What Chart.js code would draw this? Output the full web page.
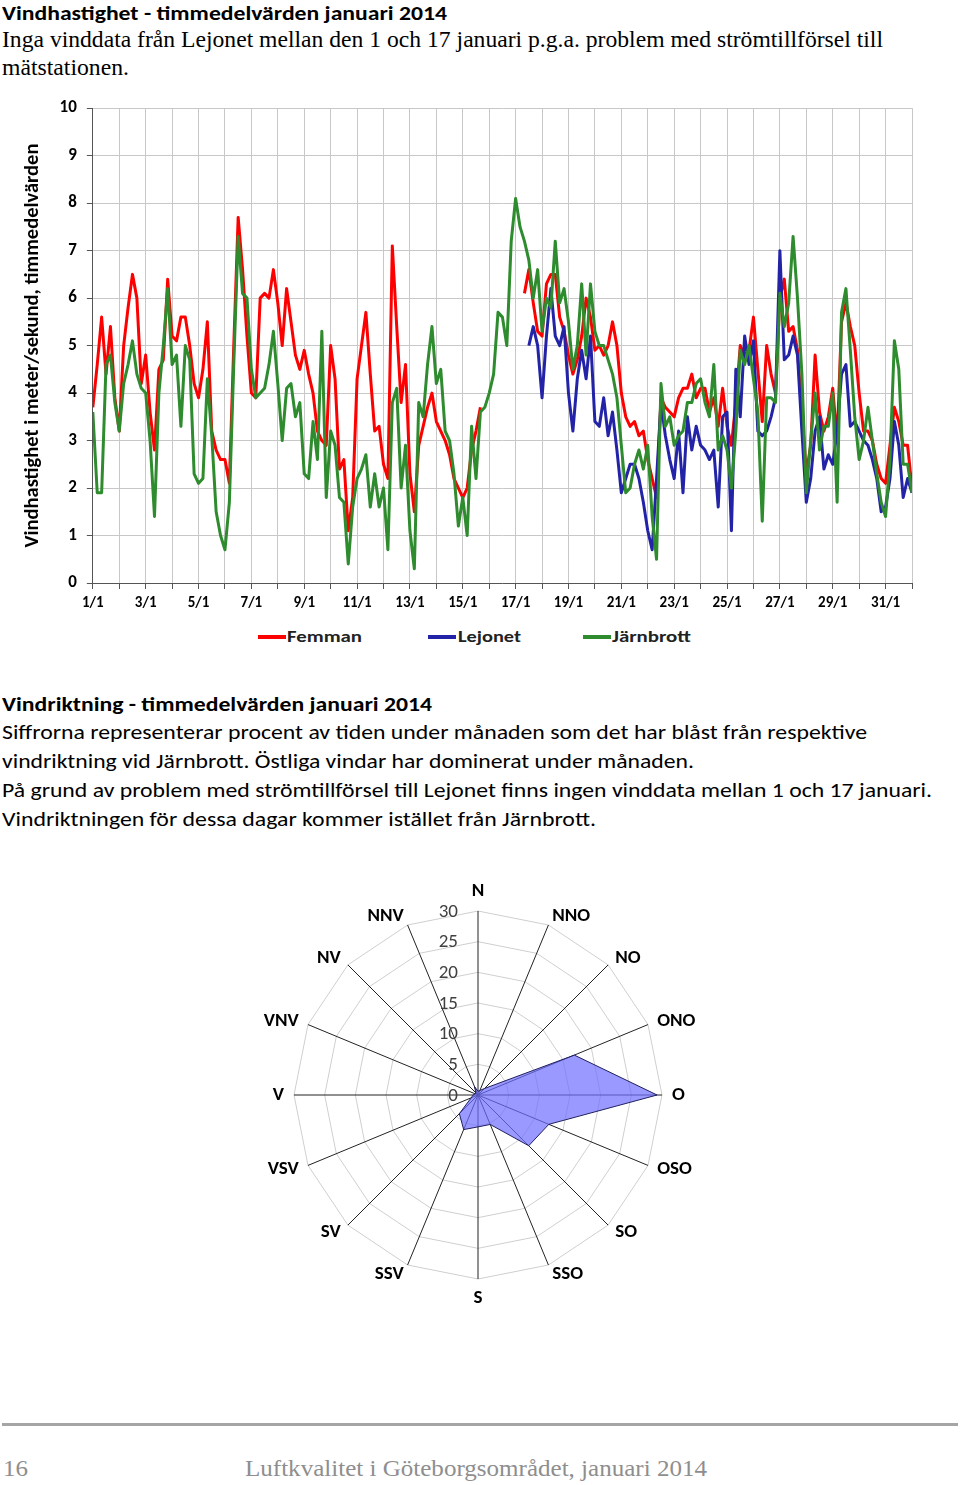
<!DOCTYPE html>
<html>
<head>
<meta charset="utf-8">
<script src="https://cdn.jsdelivr.net/npm/chart.js@4.4.1/dist/chart.umd.min.js"></script>
<style>
  html, body { margin: 0; padding: 0; background: #fff; }
  body { width: 960px; height: 1485px; position: relative; overflow: hidden; font-family: Carlito, Lato, sans-serif; }
  .t { position: absolute; white-space: nowrap; transform-origin: 0 50%; line-height: 26px; height: 26px; color: #000; }
  .h { font-weight: bold; font-size: 20px; }
  .p { font-size: 20px; }
  .serif { font-family: "Liberation Serif", serif; font-size: 23px; }
  .foot { font-family: "Liberation Serif", serif; font-size: 23px; color: #8e8e8e; }
  .leg { font-weight: bold; font-size: 16px; color: #222; }
  .mark { position: absolute; width: 28px; height: 4px; }
  #speed { position: absolute; left: 0; top: 88px; }
  #dir { position: absolute; left: 248px; top: 865px; }
  #rule { position: absolute; left: 2px; top: 1423px; width: 956px; height: 3px; background: #a5a5a5; }
</style>
</head>
<body>
<div class="t h" style="left:2px;top:0px" data-w="445">Vindhastighet - timmedelvärden januari 2014</div>
<div class="t serif" style="left:2px;top:27px" data-w="881">Inga vinddata från Lejonet mellan den 1 och 17 januari p.g.a. problem med strömtillförsel till</div>
<div class="t serif" style="left:2px;top:55px" data-w="127">mätstationen.</div>

<canvas id="speed" width="960" height="532"></canvas>

<div class="mark" id="m0" style="left:258px;top:635px"></div>
<div class="t leg" style="left:287px;top:624px" data-w="75">Femman</div>
<div class="mark" id="m1" style="left:428px;top:635px"></div>
<div class="t leg" style="left:458px;top:624px" data-w="63">Lejonet</div>
<div class="mark" id="m2" style="left:583px;top:635px"></div>
<div class="t leg" style="left:612px;top:624px" data-w="79">Järnbrott</div>

<div class="t h" style="left:2px;top:691px" data-w="430">Vindriktning - timmedelvärden januari 2014</div>
<div class="t p" style="left:2px;top:719px" data-w="865">Siffrorna representerar procent av tiden under månaden som det har blåst från respektive</div>
<div class="t p" style="left:2px;top:748px" data-w="692">vindriktning vid Järnbrott. Östliga vindar har dominerat under månaden.</div>
<div class="t p" style="left:2px;top:777px" data-w="930">På grund av problem med strömtillförsel till Lejonet finns ingen vinddata mellan 1 och 17 januari.</div>
<div class="t p" style="left:2px;top:806px" data-w="594">Vindriktningen för dessa dagar kommer istället från Järnbrott.</div>

<canvas id="dir" width="460" height="460"></canvas>

<div id="rule"></div>
<div class="t foot" style="left:3px;top:1456px" data-w="25">16</div>
<div class="t foot" style="left:245px;top:1456px" data-w="462">Luftkvalitet i Göteborgsområdet, januari 2014</div>

<script>
// hourly means, one reading every 4 hours from 1/1 00:00
const STEP_H = 4;

const femman = [
  3.7, 4.6, 5.6, 4.4, 5.4, 3.9, 3.2, 5.0, 5.8, 6.5, 6.0, 4.2, 4.8, 3.6, 2.8, 4.5,
  4.7, 6.4, 5.2, 5.1, 5.6, 5.6, 5.0, 4.2, 3.9, 4.5, 5.5, 3.2, 2.8, 2.6, 2.6, 2.1,
  5.0, 7.7, 6.6, 5.2, 4.0, 3.9, 6.0, 6.1, 6.0, 6.6, 5.9, 5.0, 6.2, 5.5, 4.8, 4.5,
  4.9, 4.4, 4.0, 3.2, 3.0, 2.9, 5.0, 4.3, 2.4, 2.6, 1.1, 1.8, 4.3, 5.0, 5.7, 4.4,
  3.2, 3.3, 2.5, 2.2, 7.1, 5.4, 3.8, 4.6, 2.3, 1.5, 2.9, 3.3, 3.7, 4.0, 3.4, 3.2,
  3.0, 2.7, 2.2, 2.0, 1.8, 2.0, 2.8, 3.2, 3.7,
  null, null, null, null, null, null, null, null, null,
  6.1, 6.6, 5.9, 5.3, 5.2, 6.3, 6.5, 6.5, 5.6, 5.3, 4.8, 4.4, 4.7, 5.2, 6.0, 5.6,
  4.9, 5.0, 4.8, 5.0, 5.5, 5.0, 4.0, 3.5, 3.3, 3.4, 3.1, 3.2, 2.6, 2.2, 1.8, 3.9,
  3.7, 3.6, 3.5, 3.9, 4.1, 4.1, 4.4, 3.9, 4.1, 4.1, 3.6, 3.9, 3.3,
  4.1, 3.3, 2.9, 3.8, 5.0, 4.8, 4.9, 5.6, 4.5, 3.4, 5.0, 4.4, 4.0, 6.0, 6.4, 5.3,
  5.4, 4.9, 3.6, 2.3, 2.9, 4.8, 3.6, 3.2, 3.5, 4.1, 3.0, 5.5, 5.9, 5.4, 5.0, 4.0,
  3.2, 3.2, 3.0, 2.5, 2.2, 2.1, 2.9, 3.7, 3.4, 2.9, 2.9, 2.0
];

// Lejonet has no data before 17/1 12:00 (reading no. 99)
const lejonetStart = 99;
const lejonet = [
  5.0, 5.4, 5.0, 3.9, 5.2, 6.2, 5.2, 5.0, 5.4, 4.0, 3.2, 4.3, 4.9, 4.3, 5.2, 3.4,
  3.3, 3.9, 3.1, 3.6, 2.8, 1.9, 2.2, 2.5, 2.5, 2.2, 1.7, 1.1, 0.7, 2.2, 3.8, 3.1,
  2.6, 2.2, 3.2, 1.9, 3.5, 2.8, 3.3, 2.9, 2.8, 2.6, 2.8, 1.6,
  3.5, 3.6, 1.1, 4.5, 3.5, 5.2, 4.6, 5.1, 3.2, 3.1, 3.2, 3.5, 3.9, 7.0, 4.7, 4.8,
  5.2, 4.8, 3.2, 1.7, 2.2, 3.2, 3.5, 2.4, 2.7, 2.5, 3.2, 4.4, 4.6, 3.3, 3.4, 3.2,
  3.0, 2.9, 2.6, 2.2, 1.5, 1.6, 2.2, 3.4, 2.9, 1.8, 2.2, 1.9
];

const jarnbrott = [
  3.6, 1.9, 1.9, 4.6, 4.8, 3.8, 3.2, 4.2, 4.6, 5.1, 4.4, 4.1, 4.0, 3.0, 1.4, 4.0,
  5.0, 6.2, 4.6, 4.8, 3.3, 5.0, 4.7, 2.3, 2.1, 2.2, 4.3, 3.1, 1.5, 1.0, 0.7, 1.7,
  4.6, 7.3, 6.1, 6.0, 4.5, 3.9, 4.0, 4.1, 4.6, 5.3, 4.2, 3.0, 4.1, 4.2, 3.5, 3.8,
  2.3, 2.2, 3.4, 2.6, 5.3, 1.8, 3.2, 2.9, 1.8, 1.7, 0.4, 1.6, 2.2, 2.4, 2.7, 1.6,
  2.3, 1.6, 2.0, 0.7, 3.8, 4.1, 2.0, 2.9, 1.1, 0.3, 3.8, 3.5, 4.6, 5.4, 4.2, 4.5,
  3.2, 3.0, 2.3, 1.2, 1.8, 1.0, 3.3, 2.2, 3.6, 3.7, 4.0, 4.4, 5.7, 5.6, 5.0,
  7.2, 8.1, 7.5, 7.2, 6.8, 6.0, 6.6, 5.3, 6.0, 5.8, 7.2, 5.9, 6.2, 5.5, 4.5, 5.0,
  6.3, 4.8, 6.3, 5.3, 5.0, 5.0, 4.7, 4.4, 3.9, 2.9, 1.9, 2.0, 2.5, 2.8, 2.4, 2.9,
  1.4, 0.5, 4.2, 3.3, 3.5, 2.9, 3.1, 3.2, 3.8, 3.8, 4.2, 4.3, 3.8, 3.5, 4.6, 2.8,
  3.1, 2.8, 2.0, 3.2, 4.9, 4.6, 5.0, 4.3, 3.6, 1.3, 3.9, 3.9, 3.8, 6.1, 5.4, 5.9,
  7.3, 6.0, 4.4, 1.9, 3.0, 4.0, 2.8, 3.3, 3.3, 4.0, 1.7, 5.7, 6.2, 4.9, 3.5, 2.6,
  3.0, 3.7, 3.0, 2.3, 1.7, 1.4, 2.6, 5.1, 4.5, 2.5, 2.5, 1.9
];

const dayLabels = ['1/1', '3/1', '5/1', '7/1', '9/1', '11/1', '13/1', '15/1',
  '17/1', '19/1', '21/1', '23/1', '25/1', '27/1', '29/1', '31/1'];

const directions = ['N', 'NNO', 'NO', 'ONO', 'O', 'OSO', 'SO', 'SSO',
  'S', 'SSV', 'SV', 'VSV', 'V', 'VNV', 'NV', 'NNV'];
const dirShare = [0.6, 0.8, 1.5, 17, 29.2, 12.5, 11.7, 5.2,
  5.2, 6.1, 4.3, 1.2, 0.8, 0.5, 0.5, 1.5];
const rTicks = [0, 5, 10, 15, 20, 25, 30];

const RED = '#ff0000', BLUE = '#2323a8', GREEN = '#2e8b2e';
const FONT = 'Carlito, Lato, sans-serif';

// fit text lines to the widths they have on the page
document.querySelectorAll('[data-w]').forEach(el => {
  const w = el.getBoundingClientRect().width;
  el.style.transform = 'scaleX(' + (el.dataset.w / w) + ')';
});
document.getElementById('m0').style.background = RED;
document.getElementById('m1').style.background = BLUE;
document.getElementById('m2').style.background = GREEN;

Chart.defaults.font.family = FONT;
Chart.defaults.color = '#000';

function toPoints(values, start) {
  return values.map((v, i) => ({ x: (start + i) * STEP_H, y: v }));
}

new Chart(document.getElementById('speed'), {
  type: 'line',
  data: {
    datasets: [
      { label: 'Femman', data: toPoints(femman, 0), borderColor: RED, order: 3 },
      { label: 'Lejonet', data: toPoints(lejonet, lejonetStart), borderColor: BLUE, order: 2 },
      { label: 'Järnbrott', data: toPoints(jarnbrott, 0), borderColor: GREEN, order: 1 }
    ]
  },
  options: {
    responsive: false,
    animation: false,
    spanGaps: false,
    elements: {
      line: { borderWidth: 3, tension: 0, borderJoinStyle: 'round' },
      point: { radius: 0 }
    },
    layout: { padding: { left: 16, right: 48, top: 19, bottom: 3 } },
    plugins: { legend: { display: false }, tooltip: { enabled: false } },
    scales: {
      x: {
        type: 'linear',
        min: 0,
        max: 744,
        grid: { color: '#c8c8c8', tickColor: '#555', tickLength: 6 },
        border: { color: '#555' },
        ticks: {
          stepSize: 24,
          autoSkip: false,
          maxRotation: 0,
          padding: 5,
          font: { size: 15, weight: 'bold' },
          callback: v => (v % 48 === 0 ? dayLabels[v / 48] : '')
        }
      },
      y: {
        min: 0,
        max: 10,
        grid: { color: '#c8c8c8', tickColor: '#555', tickLength: 6 },
        border: { color: '#555' },
        ticks: { stepSize: 1, padding: 10, font: { size: 17, weight: 'bold' } },
        title: {
          display: true,
          text: 'Vindhastighet i meter/sekund, timmedelvärden',
          font: { size: 20.5, weight: 'bold' },
          padding: { top: 5, bottom: 4 }
        }
      }
    }
  }
});

// tick numbers left of the N spoke and compass labels hugging the spoke ends
const radarText = {
  id: 'radarText',
  afterDatasetsDraw(chart) {
    const s = chart.scales.r;
    const ctx = chart.ctx;
    ctx.save();
    ctx.font = '19px ' + FONT;
    ctx.fillStyle = '#404040';
    ctx.textAlign = 'right';
    ctx.textBaseline = 'middle';
    rTicks.forEach(v => {
      const p = s.getPointPositionForValue(0, v);
      ctx.fillText(String(v), p.x - 20, p.y + 1);
    });
    ctx.font = 'bold 19px ' + FONT;
    ctx.fillStyle = '#000';
    directions.forEach((d, i) => {
      const p = s.getPointPosition(i, s.drawingArea + 10);
      const deg = i * 360 / directions.length;
      ctx.textAlign = (deg === 0 || deg === 180) ? 'center' : (deg < 180 ? 'left' : 'right');
      ctx.textBaseline = deg === 0 ? 'bottom' : (deg === 180 ? 'top' : 'middle');
      ctx.fillText(d, p.x, p.y);
    });
    ctx.restore();
  }
};

new Chart(document.getElementById('dir'), {
  type: 'radar',
  data: {
    labels: directions,
    datasets: [{
      data: dirShare,
      backgroundColor: 'rgba(110,110,255,0.7)',
      borderColor: '#20205e',
      borderWidth: 1,
      pointRadius: 0
    }]
  },
  options: {
    responsive: false,
    animation: false,
    layout: { padding: 46 },
    plugins: { legend: { display: false }, tooltip: { enabled: false } },
    scales: {
      r: {
        min: 0,
        max: 30,
        ticks: { stepSize: 5, display: false },
        grid: { color: '#cfcfcf' },
        angleLines: { color: '#222', lineWidth: 1 },
        pointLabels: { display: false }
      }
    }
  },
  plugins: [radarText]
});
</script>
</body>
</html>
